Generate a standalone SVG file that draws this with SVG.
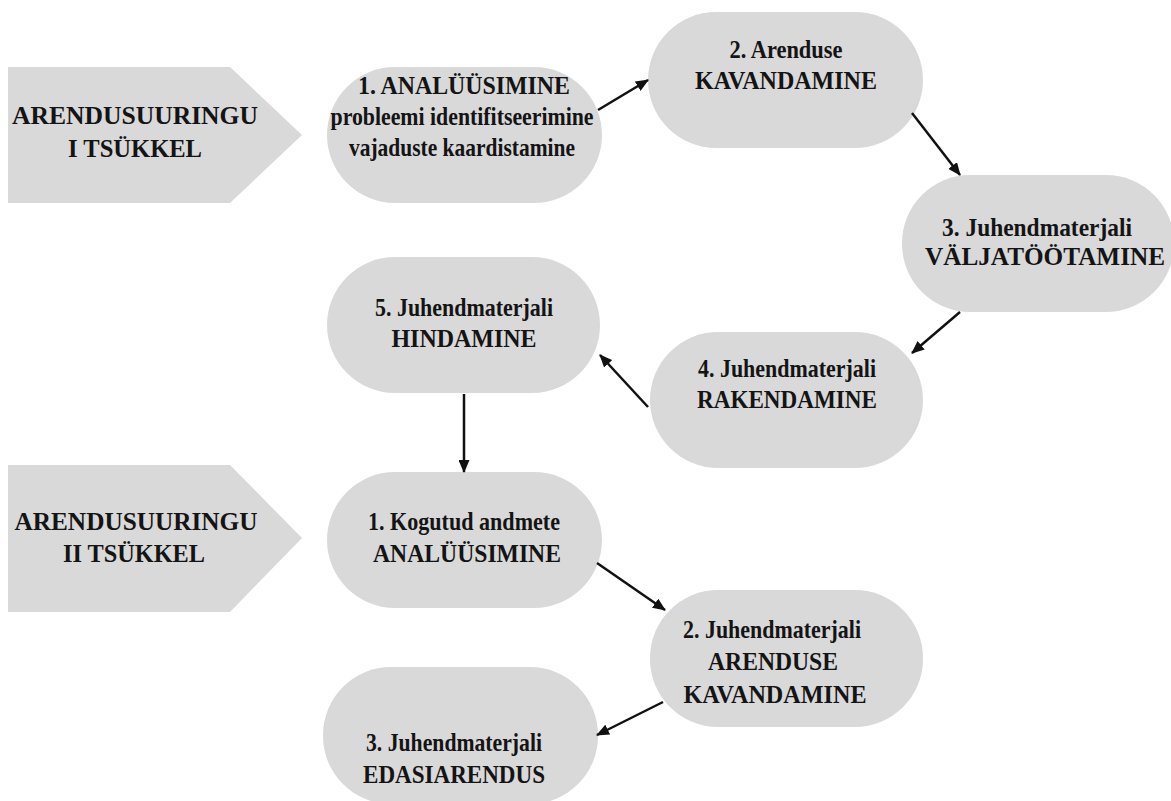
<svg xmlns="http://www.w3.org/2000/svg" width="1171" height="801" viewBox="0 0 1171 801">
<defs>
<style>
.shape{fill:#d9d9d9;stroke:none}
.t{font-family:"Liberation Serif","Times New Roman",serif;font-weight:bold;font-size:25px;fill:#141414;text-anchor:middle}
.tp{font-family:"Liberation Serif","Times New Roman",serif;font-weight:bold;font-size:26px;fill:#141414;text-anchor:middle}
.c{stroke:#111;stroke-width:2.5;fill:none;marker-end:url(#ah)}
</style>
<marker id="ah" markerUnits="userSpaceOnUse" markerWidth="13" markerHeight="11" refX="12" refY="5.5" orient="auto">
<path d="M0,0 L13,5.5 L0,11 z" fill="#111"/>
</marker>
</defs>
<rect width="1171" height="801" fill="#ffffff"/>
<g id="cycle1">
<polygon class="shape" points="8,67 230,67 302,135 230,203 8,203"/>
<text class="tp" x="135" y="124" textLength="246" lengthAdjust="spacingAndGlyphs">ARENDUSUURINGU</text>
<text class="tp" x="135" y="157" textLength="134" lengthAdjust="spacingAndGlyphs">I TSÜKKEL</text>
</g>
<g id="cycle2">
<polygon class="shape" points="8,465 230,465 302,538 230,612 8,612"/>
<text class="tp" x="136" y="530" textLength="243" lengthAdjust="spacingAndGlyphs">ARENDUSUURINGU</text>
<text class="tp" x="134" y="562" textLength="142" lengthAdjust="spacingAndGlyphs">II TSÜKKEL</text>
</g>
<g id="n1">
<rect class="shape" x="327" y="67" width="275" height="136" rx="68"/>
<text class="t" x="464" y="94" textLength="212" lengthAdjust="spacingAndGlyphs">1. ANALÜÜSIMINE</text>
<text class="t" x="462" y="125" textLength="263" lengthAdjust="spacingAndGlyphs">probleemi identifitseerimine</text>
<text class="t" x="462" y="156" textLength="226" lengthAdjust="spacingAndGlyphs">vajaduste kaardistamine</text>
</g>
<g id="n2">
<rect class="shape" x="648" y="12" width="275" height="136" rx="68"/>
<text class="t" x="786" y="58" textLength="113" lengthAdjust="spacingAndGlyphs">2. Arenduse</text>
<text class="t" x="786" y="89" textLength="182" lengthAdjust="spacingAndGlyphs">KAVANDAMINE</text>
</g>
<g id="n3">
<rect class="shape" x="902" y="175" width="272" height="137" rx="68"/>
<text class="t" x="1037" y="236" textLength="190" lengthAdjust="spacingAndGlyphs">3. Juhendmaterjali</text>
<text class="t" x="1045" y="265" textLength="240" lengthAdjust="spacingAndGlyphs">VÄLJATÖÖTAMINE</text>
</g>
<g id="n4">
<rect class="shape" x="650" y="332" width="273" height="136" rx="68"/>
<text class="t" x="787" y="377" textLength="178" lengthAdjust="spacingAndGlyphs">4. Juhendmaterjali</text>
<text class="t" x="787" y="408" textLength="180" lengthAdjust="spacingAndGlyphs">RAKENDAMINE</text>
</g>
<g id="n5">
<rect class="shape" x="327" y="257" width="273" height="136" rx="68"/>
<text class="t" x="464" y="316" textLength="178" lengthAdjust="spacingAndGlyphs">5. Juhendmaterjali</text>
<text class="t" x="464" y="347" textLength="145" lengthAdjust="spacingAndGlyphs">HINDAMINE</text>
</g>
<g id="n6">
<rect class="shape" x="327" y="472" width="275" height="136" rx="68"/>
<text class="t" x="464" y="530" textLength="192" lengthAdjust="spacingAndGlyphs">1. Kogutud andmete</text>
<text class="t" x="467" y="562" textLength="188" lengthAdjust="spacingAndGlyphs">ANALÜÜSIMINE</text>
</g>
<g id="n7">
<rect class="shape" x="650" y="590" width="273" height="137" rx="68"/>
<text class="t" x="772" y="638" textLength="178" lengthAdjust="spacingAndGlyphs">2. Juhendmaterjali</text>
<text class="t" x="773" y="670" textLength="130" lengthAdjust="spacingAndGlyphs">ARENDUSE</text>
<text class="t" x="775" y="703" textLength="183" lengthAdjust="spacingAndGlyphs">KAVANDAMINE</text>
</g>
<g id="n8">
<rect class="shape" x="323" y="667" width="275" height="137" rx="68"/>
<text class="t" x="454" y="751" textLength="176" lengthAdjust="spacingAndGlyphs">3. Juhendmaterjali</text>
<text class="t" x="454" y="783" textLength="182" lengthAdjust="spacingAndGlyphs">EDASIARENDUS</text>
</g>
<g id="connectors">
<line class="c" x1="598" y1="110" x2="648" y2="80"/>
<line class="c" x1="912" y1="113" x2="960" y2="175"/>
<line class="c" x1="960" y1="312" x2="912" y2="353"/>
<line class="c" x1="648" y1="407" x2="600" y2="355"/>
<line class="c" x1="464" y1="394" x2="464" y2="472"/>
<line class="c" x1="597" y1="563" x2="665" y2="610"/>
<line class="c" x1="663" y1="702" x2="597" y2="735"/>
</g>
</svg>
